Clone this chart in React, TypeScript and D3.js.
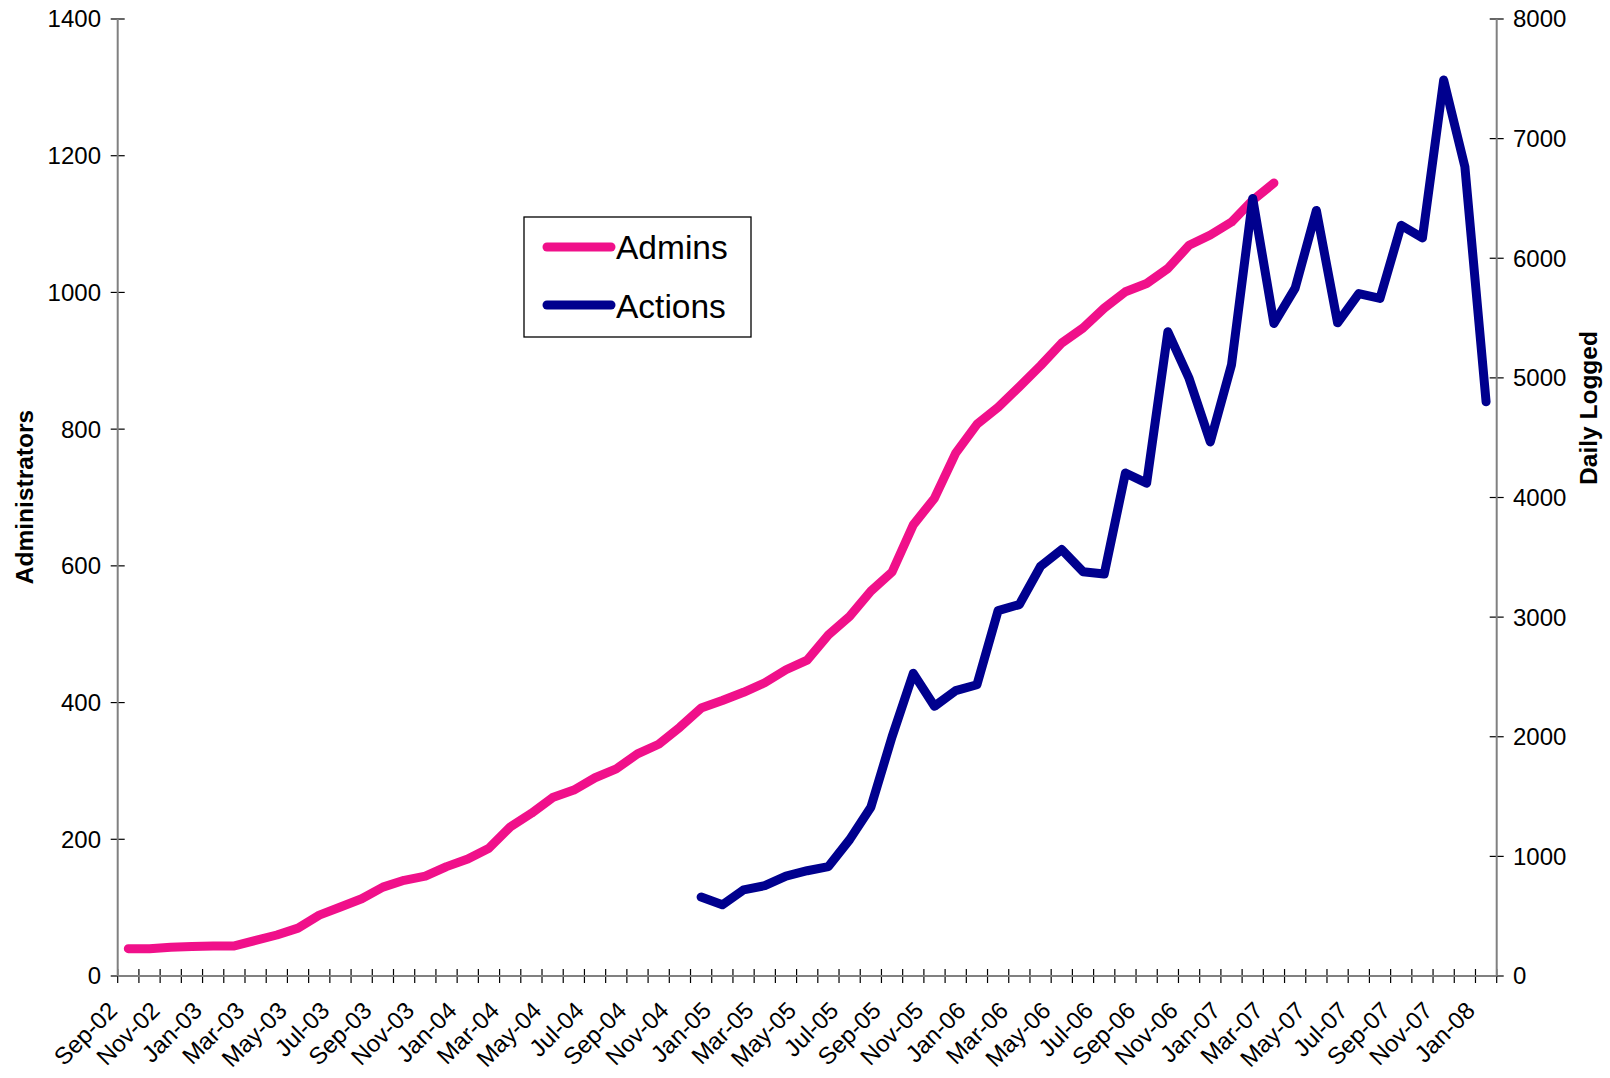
import React from 'react'
import * as d3 from 'd3'

// monthly categories, Sep-02 .. Jan-08
const months = [
  'Sep-02', 'Oct-02', 'Nov-02', 'Dec-02',
  'Jan-03', 'Feb-03', 'Mar-03', 'Apr-03', 'May-03', 'Jun-03', 'Jul-03', 'Aug-03', 'Sep-03', 'Oct-03', 'Nov-03', 'Dec-03',
  'Jan-04', 'Feb-04', 'Mar-04', 'Apr-04', 'May-04', 'Jun-04', 'Jul-04', 'Aug-04', 'Sep-04', 'Oct-04', 'Nov-04', 'Dec-04',
  'Jan-05', 'Feb-05', 'Mar-05', 'Apr-05', 'May-05', 'Jun-05', 'Jul-05', 'Aug-05', 'Sep-05', 'Oct-05', 'Nov-05', 'Dec-05',
  'Jan-06', 'Feb-06', 'Mar-06', 'Apr-06', 'May-06', 'Jun-06', 'Jul-06', 'Aug-06', 'Sep-06', 'Oct-06', 'Nov-06', 'Dec-06',
  'Jan-07', 'Feb-07', 'Mar-07', 'Apr-07', 'May-07', 'Jun-07', 'Jul-07', 'Aug-07', 'Sep-07', 'Oct-07', 'Nov-07', 'Dec-07',
  'Jan-08',
]

// Admins (left axis), Sep-02 .. Mar-07
const admins = [
  40, 40, 42, 43, 44, 44, 52, 60, 70, 89, 101, 113, 130, 140, 146, 160, 171, 187, 218, 238,
  261, 272, 290, 303, 325, 339, 364, 392, 403, 415, 429, 448, 462, 499, 526, 563, 591, 660, 699, 765,
  807, 832, 862, 893, 926, 948, 977, 1001, 1013, 1035, 1069, 1084, 1103, 1135, 1160,
]

// Actions, daily logged (right axis), Dec-04 .. Jan-08
const actionsStart = 'Dec-04'
const actions = [
  660, 595, 720, 755, 835, 880, 915, 1140, 1410, 2000, 2530, 2255, 2385, 2435, 3055, 3105, 3425, 3565, 3380, 3360,
  4205, 4120, 5385, 4995, 4465, 5110, 6500, 5455, 5750, 6400, 5460, 5705, 5665, 6275, 6170, 7490, 6765, 4800,
]

const leftTicks = [0, 200, 400, 600, 800, 1000, 1200, 1400]
const rightTicks = [0, 1000, 2000, 3000, 4000, 5000, 6000, 7000, 8000]

const W = 1610
const H = 1078
const left = 117.7
const right = 1496.7
const top = 19
const bottom = 976
const font = '"Liberation Sans", Arial, sans-serif'
const pink = '#F0108A'
const navy = '#00008E'

export default function App() {
  const x = d3.scaleBand().domain(months).range([left, right]).padding(0)
  const bw = x.bandwidth()
  const cx = (m) => x(m) + bw / 2
  const yL = d3.scaleLinear().domain([0, 1400]).range([bottom, top])
  const yR = d3.scaleLinear().domain([0, 8000]).range([bottom, top])

  const adminPts = admins.map((v, i) => [cx(months[i]), yL(v)])
  const a0 = months.indexOf(actionsStart)
  const actionPts = actions.map((v, i) => [cx(months[a0 + i]), yR(v)])
  const line = d3.line()

  const tickXs = months.map((m) => x(m)).concat([right])

  return (
    <svg width={W} height={H} style={{ position: 'absolute', left: 0, top: 0, display: 'block' }}>
      <rect width={W} height={H} fill="#fff" />

      {/* x ticks */}
      {tickXs.map((tx, i) => (
        <line key={'xt' + i} x1={tx} x2={tx} y1={bottom - 7} y2={bottom + 7} stroke="#000" strokeWidth={1.2} />
      ))}
      {/* left ticks */}
      {leftTicks.map((t) => (
        <g key={'lt' + t}>
          <line x1={left - 7} x2={left + 7} y1={yL(t)} y2={yL(t)} stroke="#000" strokeWidth={1.2} />
          <text x={101} y={yL(t)} dy="0.35em" textAnchor="end" fontFamily={font} fontSize={24}>
            {t}
          </text>
        </g>
      ))}
      {/* right ticks */}
      {rightTicks.map((t) => (
        <g key={'rt' + t}>
          <line x1={right - 7} x2={right + 7} y1={yR(t)} y2={yR(t)} stroke="#000" strokeWidth={1.2} />
          <text x={1513} y={yR(t)} dy="0.35em" textAnchor="start" fontFamily={font} fontSize={24}>
            {t}
          </text>
        </g>
      ))}

      {/* axis lines */}
      <line x1={left} x2={left} y1={top} y2={bottom} stroke="#808080" strokeWidth={2} />
      <line x1={right} x2={right} y1={top} y2={bottom} stroke="#808080" strokeWidth={2} />
      <line x1={left} x2={right} y1={bottom} y2={bottom} stroke="#808080" strokeWidth={2} />

      {/* x labels, every second month */}
      {months.map((m, i) =>
        i % 2 === 0 ? (
          <text
            key={'xl' + m}
            transform={`translate(${x(m) + 1},${bottom + 36}) rotate(-45)`}
            textAnchor="end"
            fontFamily={font}
            fontSize={24}
          >
            {m}
          </text>
        ) : null
      )}

      {/* axis titles */}
      <text
        transform="translate(33,497) rotate(-90)"
        textAnchor="middle"
        fontFamily={font}
        fontSize={24.5}
        fontWeight="bold"
      >
        Administrators
      </text>
      <text
        transform="translate(1597,408) rotate(-90)"
        textAnchor="middle"
        fontFamily={font}
        fontSize={24.5}
        fontWeight="bold"
      >
        Daily Logged
      </text>

      {/* series */}
      <path d={line(adminPts)} fill="none" stroke={pink} strokeWidth={9} strokeLinecap="round" strokeLinejoin="round" />
      <path d={line(actionPts)} fill="none" stroke={navy} strokeWidth={9} strokeLinecap="round" strokeLinejoin="round" />

      {/* legend */}
      <rect x={524} y={217} width={227} height={120} fill="#fff" stroke="#000" strokeWidth={1.3} />
      <line x1={547} x2={611} y1={247} y2={247} stroke={pink} strokeWidth={9} strokeLinecap="round" />
      <text x={616} y={259} fontFamily={font} fontSize={33.5}>
        Admins
      </text>
      <line x1={547} x2={611} y1={305} y2={305} stroke={navy} strokeWidth={9} strokeLinecap="round" />
      <text x={616} y={318} fontFamily={font} fontSize={33.5}>
        Actions
      </text>
    </svg>
  )
}
